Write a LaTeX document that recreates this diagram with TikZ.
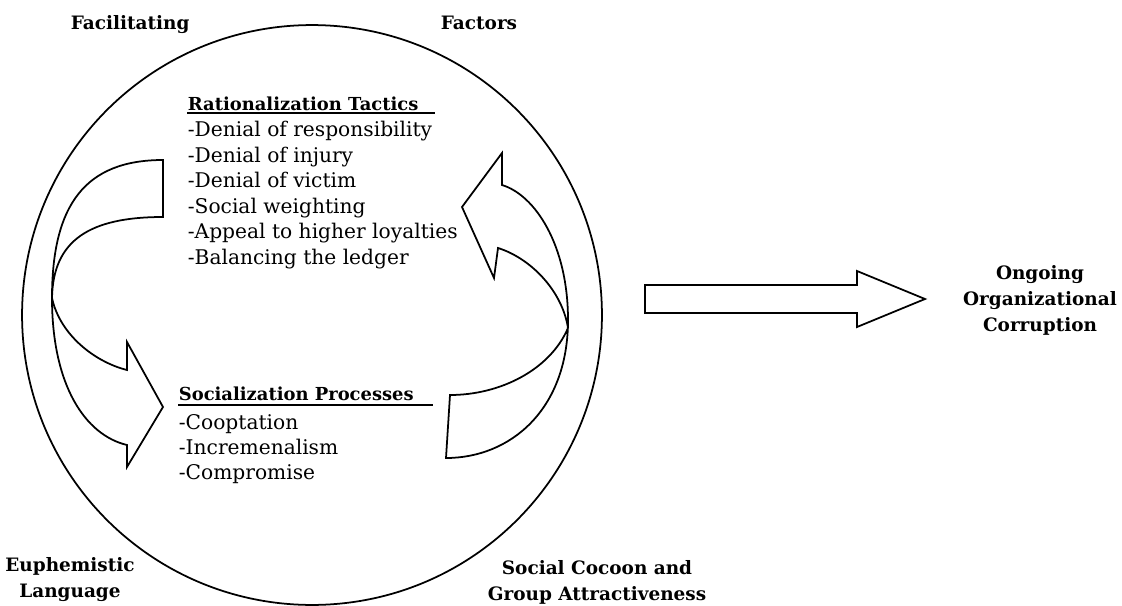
\documentclass[tikz,border=0pt]{standalone}
\usepackage{fontspec}
\setmainfont{DejaVu Serif}
\usetikzlibrary{positioning}

\begin{document}
\begin{tikzpicture}[x=0.02cm, y=-0.02cm, line width=1pt, line join=miter,
  outer/.style={font=\bfseries\fontsize{10.5}{14.8}\selectfont, inner sep=0pt, align=center},
  head/.style={font=\bfseries\fontsize{10.2}{14.5}\selectfont, inner sep=0pt},
  list/.style={font=\fontsize{11.5}{14.5}\selectfont, inner sep=0pt, align=left}]

\useasboundingbox (0,0) rectangle (1122,605);

% Circle
\node (ring) [draw, circle, minimum size=11.6cm, inner sep=0pt] at (312,315) {};

% Factor labels
\node (facil) [outer, anchor=base west] at (70,30) {Facilitating};
\node (factors) [outer, anchor=base west] at (440,30) {Factors};
\node (euph) [outer] at (70,580) {Euphemistic\\Language};
\node (cocoon) [outer] at (597,582) {Social Cocoon and\\Group Attractiveness};
\node (corrupt) [outer] at (1040,300) {Ongoing\\Organizational\\Corruption};

% Rationalization tactics
\node (rathead) [head, anchor=base west] at (187,110) {Rationalization Tactics};
\node (ratlist) [list, below=1.9mm of rathead.south west, anchor=north west] {-Denial of responsibility\\-Denial of injury\\-Denial of victim\\-Social weighting\\-Appeal to higher loyalties\\-Balancing the ledger};
\draw (187,113) -- (435,113);

% Socialization processes
\node (sochead) [head, anchor=base west] at (178,400) {Socialization Processes};
\node (soclist) [list, below=2.4mm of sochead.south west, anchor=north west] {-Cooptation\\-Incremenalism\\-Compromise};
\draw (178,405) -- (433,405);

% Left twisted arrow
\draw (163,160) .. controls (85,160) and (52,205) .. (52,298)
  .. controls (52,385) and (85,435) .. (127,445)
  -- (127,467) -- (163,407) -- (127,342) -- (127,370)
  .. controls (95,362) and (60,335) .. (52,298)
  .. controls (53,240) and (90,217) .. (163,217) -- cycle;

% Right twisted arrow
\draw (450,395) .. controls (500,395) and (550,370) .. (568,328)
  .. controls (562,290) and (530,258) .. (498,248)
  -- (494,278) -- (462,207) -- (502,153) -- (502,185)
  .. controls (535,195) and (568,245) .. (568,320)
  .. controls (568,410) and (510,458) .. (446,458) -- cycle;

% Outcome arrow
\draw (645,285) -- (857,285) -- (857,271) -- (925,299) -- (857,327) -- (857,313) -- (645,313) -- cycle;

\end{tikzpicture}
\end{document}
